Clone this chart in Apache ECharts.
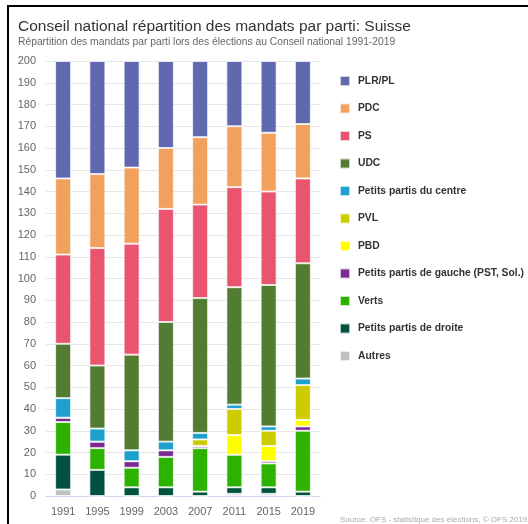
<!DOCTYPE html>
<html lang="fr">
<head>
    <meta charset="UTF-8">
    <title>Conseil national</title>
    <script src="https://cdn.jsdelivr.net/npm/echarts@6/dist/echarts.min.js"></script>
    <style>
        html, body { margin: 0; padding: 0; background: #fff; }
        #frame {
            position: absolute; left: 7px; top: 5px; right: 0; bottom: 0;
            border-top: 2px solid #000; border-left: 2px solid #000;
        }
        #chart { position: absolute; left: 0; top: 0; width: 528px; height: 524px; }
    </style>
</head>
<body>
<div id="frame"></div>
<div id="chart"></div>
<script type="text/javascript">
    // années d'élection
    var years = ['1991', '1995', '1999', '2003', '2007', '2011', '2015', '2019'];

    // mandats par parti (du bas vers le haut de la pile)
    var autres  = [3, 0, 0, 0, 0, 1, 1, 0];
    var droite  = [16, 12, 4, 4, 2, 3, 3, 2];
    var verts   = [15, 10, 9, 14, 20, 15, 11, 28];
    var gauche  = [2, 3, 3, 3, 1, 0, 1, 2];
    var pbd     = [0, 0, 0, 0, 0, 9, 7, 3];
    var pvl     = [0, 0, 0, 0, 3, 12, 7, 16];
    var centre  = [9, 6, 5, 4, 3, 2, 2, 3];
    var udc     = [25, 29, 44, 55, 62, 54, 65, 53];
    var ps      = [41, 54, 51, 52, 43, 46, 43, 39];
    var pdc     = [35, 34, 35, 28, 31, 28, 27, 25];
    var plr     = [54, 52, 49, 40, 35, 30, 33, 29];

    var stack = [
        ['Autres', autres, '#c0c0c0'],
        ['Petits partis de droite', droite, '#00523f'],
        ['Verts', verts, '#2db200'],
        ['Petits partis de gauche (PST, Sol.)', gauche, '#7b2a92'],
        ['PBD', pbd, '#ffff00'],
        ['PVL', pvl, '#cccc00'],
        ['Petits partis du centre', centre, '#1ea0cf'],
        ['UDC', udc, '#527c32'],
        ['PS', ps, '#e9546f'],
        ['PDC', pdc, '#f2a05e'],
        ['PLR/PL', plr, '#6068b0']
    ];

    var font = "'Liberation Sans', Arial, sans-serif";
    var chart = echarts.init(document.getElementById('chart'));

    var series = stack.map(function (s) {
        return {
            name: s[0],
            type: 'bar',
            stack: 'total',
            barWidth: 16,
            data: s[1],
            itemStyle: { color: s[2], borderColor: 'rgba(255,255,255,0.7)', borderWidth: 1 }
        };
    });

    chart.setOption({
        animation: false,
        title: [{
            text: 'Conseil national répartition des mandats par parti: Suisse',
            left: 18, top: 19, padding: 0,
            textStyle: { fontFamily: font, fontSize: 15.5, fontWeight: 'normal', color: '#333' }
        }, {
            text: 'Répartition des mandats par parti lors des élections au Conseil national 1991-2019',
            left: 18, top: 37, padding: 0,
            textStyle: { fontFamily: font, fontSize: 10.3, fontWeight: 'normal', color: '#666' }
        }, {
            text: 'Source: OFS - statistique des élections, © OFS 2019',
            left: 340, top: 516, padding: 0,
            textStyle: { fontFamily: font, fontSize: 8, fontWeight: 'normal', color: '#aaa' }
        }],
        legend: {
            orient: 'vertical',
            left: 339, top: 75, padding: 0,
            itemWidth: 10, itemHeight: 10, itemGap: 15.5,
            icon: 'rect',
            data: stack.map(function (s) { return s[0]; }).reverse(),
            textStyle: { fontFamily: font, fontSize: 10.3, fontWeight: 'bold', color: '#333', padding: [0, 0, 0, 3] }
        },
        grid: { left: 46, right: 208, top: 61, bottom: 28 },
        xAxis: {
            type: 'category',
            data: years,
            axisLine: { lineStyle: { color: '#ccd6eb' } },
            axisTick: { show: false },
            axisLabel: { fontFamily: font, fontSize: 11, color: '#666', margin: 10 }
        },
        yAxis: {
            type: 'value',
            min: 0, max: 200, interval: 10,
            axisLine: { show: false },
            axisTick: { show: false },
            splitLine: { lineStyle: { color: '#e6e6e6' } },
            axisLabel: { fontFamily: font, fontSize: 11, color: '#666', margin: 10 }
        },
        series: series
    });
</script>
</body>
</html>
